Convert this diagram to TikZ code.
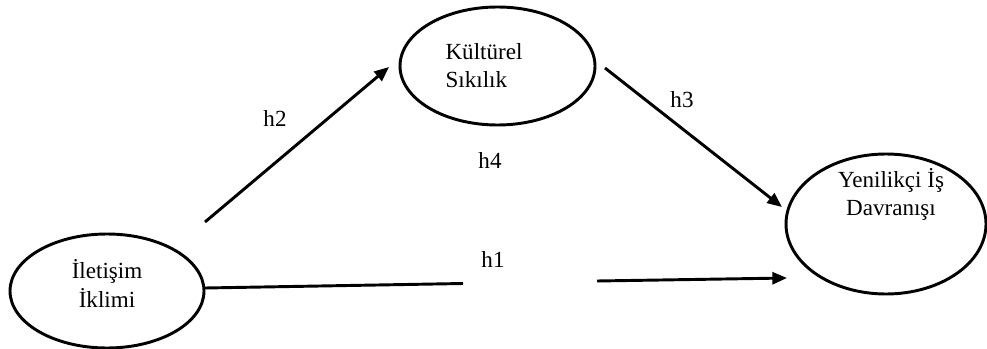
\documentclass[tikz,border=0pt]{standalone}
\usepackage{fontspec}
\setmainfont{Liberation Serif}
\usetikzlibrary{arrows.meta,shapes.geometric}
\begin{document}
\begin{tikzpicture}[x=0.75pt,y=-0.75pt,
  every node/.style={font=\fontsize{17.3}{21.5}\selectfont},
  construct/.style={ellipse,draw,line width=2.2pt,inner sep=0pt},
  lbl/.style={inner sep=0pt,anchor=base},
  txt/.style={inner sep=0pt},
  path/.style={line width=2.2pt},
  arr/.style={line width=2.2pt,-{Triangle[length=11pt,width=9pt]}}]
\useasboundingbox (0,0) rectangle (987,349);
% constructs
\node[construct,minimum width=145.5pt,minimum height=85.5pt] (L) at (107,291) {};
\node[construct,minimum width=146.25pt,minimum height=88.5pt] (T) at (497.5,66) {};
\node[construct,minimum width=150pt,minimum height=105pt] (R) at (886,224) {};
% texts
\node[txt,align=center] (Ltxt) at (107,283.5) {İletişim\\İklimi};
\node[txt,align=left] (Ttxt) at (484,65.5) {Kültürel\\Sıkılık};
\node[txt,align=center] (Rtxt) at (891,194.5) {Yenilikçi İş\\Davranışı};
% connector end points
\coordinate (h2s) at (205,222);
\coordinate (h2e) at (389,67);
\coordinate (h3s) at (605,68);
\coordinate (h3e) at (782,207);
\coordinate (h1s) at (205,288);
\coordinate (h1a) at (463,283.5);
\coordinate (h1b) at (597,281);
\coordinate (h1e) at (787,278);
% connectors
\draw[arr] (h2s) -- (h2e);
\draw[arr] (h3s) -- (h3e);
\draw[path] (h1s) -- (h1a);
\draw[arr] (h1b) -- (h1e);
% labels
\node[lbl] (h2) at (275,127) {h2};
\node[lbl] (h3) at (682,108) {h3};
\node[lbl] (h4) at (490,168) {h4};
\node[lbl] (h1) at (493,267) {h1};
\end{tikzpicture}
\end{document}
